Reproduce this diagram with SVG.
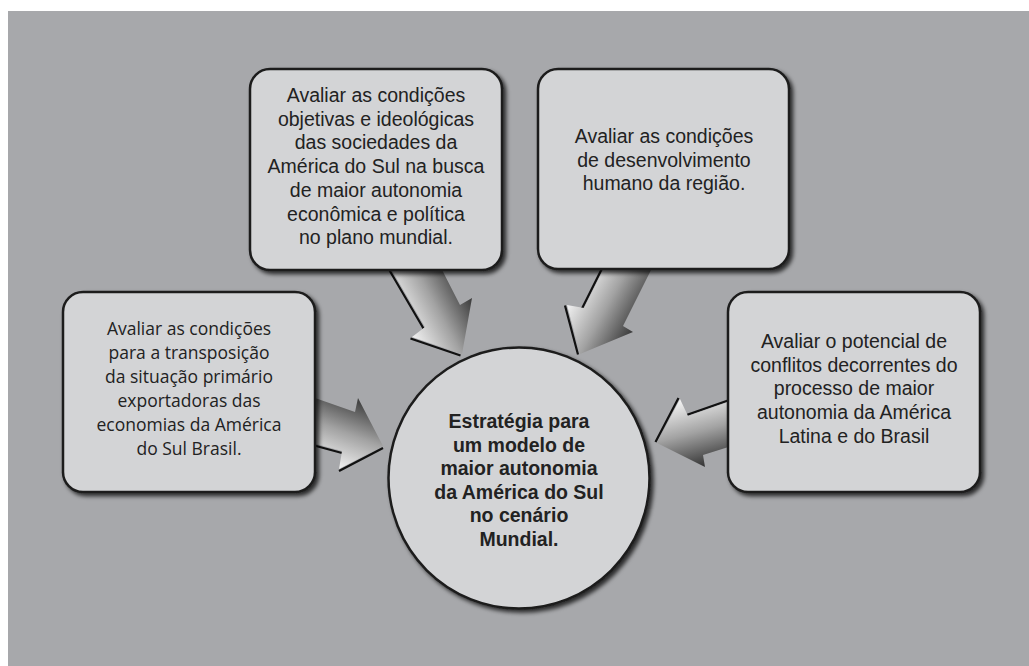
<svg xmlns="http://www.w3.org/2000/svg" width="1029" height="666" viewBox="0 0 1029 666">
<style>
.box{fill:#d3d4d6;stroke:#1c1c1c;stroke-width:2.5;filter:url(#sh)}
.t{font-family:"Liberation Sans",Arial,sans-serif;font-size:19.5px;fill:#222;text-anchor:middle}
.tc{font-family:"Open Sans","Noto Sans",sans-serif;font-size:17.5px;fill:#222;text-anchor:middle}
.tb{font-family:"Liberation Sans",Arial,sans-serif;font-size:19.5px;font-weight:bold;fill:#222;text-anchor:middle}
.edge{fill:none;stroke:#111;stroke-width:2.2}
</style>
<defs>
<filter id="sh" x="-10%" y="-10%" width="125%" height="125%">
<feDropShadow dx="3" dy="3" stdDeviation="2" flood-color="#000" flood-opacity="0.75"/>
</filter>
<linearGradient id="g1" gradientUnits="userSpaceOnUse" x1="412" y1="337" x2="474.7" y2="303.3">
<stop offset="0" stop-color="#f2f2f2"/><stop offset="0.5" stop-color="#a2a2a2"/><stop offset="1" stop-color="#3a3a3a"/>
</linearGradient>
<linearGradient id="g2" gradientUnits="userSpaceOnUse" x1="567" y1="305" x2="628.7" y2="339.6">
<stop offset="0" stop-color="#f2f2f2"/><stop offset="0.5" stop-color="#a2a2a2"/><stop offset="1" stop-color="#3a3a3a"/>
</linearGradient>
<linearGradient id="g3" gradientUnits="userSpaceOnUse" x1="358" y1="398" x2="332.2" y2="466.5">
<stop offset="0" stop-color="#3a3a3a"/><stop offset="0.5" stop-color="#a2a2a2"/><stop offset="1" stop-color="#f2f2f2"/>
</linearGradient>
<linearGradient id="g4" gradientUnits="userSpaceOnUse" x1="680" y1="399" x2="698.6" y2="468.7">
<stop offset="0" stop-color="#f6f6f6"/><stop offset="0.5" stop-color="#a2a2a2"/><stop offset="1" stop-color="#333"/>
</linearGradient>
</defs>
<rect x="0" y="0" width="1029" height="666" fill="#fff"/>
<rect x="8" y="11" width="1021" height="655" fill="#a7a8ab"/>
<g id="connectors">
<g id="arrow-a">
<path class="edge" transform="translate(-1.5,1.5)" d="M387,262 L425,327 M412,337 L462,354"/>
<polygon fill="url(#g1)" points="387,262 425,327 412,337 462,354 472,298 460,305 438,262"/>
</g>
<g id="arrow-b">
<path class="edge" transform="translate(-2,0.5)" d="M607,262 L584,308 M567,305 L580,354"/>
<polygon fill="url(#g2)" points="607,262 584,308 567,305 580,354 633,332 623,326 655,262"/>
</g>
<g id="arrow-c">
<path class="edge" transform="translate(0,2)" d="M305,441 L342,451 M339,469 L383,446"/>
<polygon fill="url(#g3)" points="305,394.5 355,412 358,398 383,446 339,469 342,451 305,441"/>
</g>
<g id="arrow-d">
<path class="edge" transform="translate(-1.5,-1)" d="M738,398.5 L688,416 M680,399 L657,443"/>
<polygon fill="url(#g4)" points="738,398.5 688,416 680,399 657,443 705,467 703,455 738,444"/>
</g>
</g>
<g id="node-a">
<rect class="box" x="250" y="69" width="252" height="201" rx="20"/>
<text class="t" x="376" y="102">Avaliar as condições</text>
<text class="t" x="376" y="125.7">objetivas e ideológicas</text>
<text class="t" x="376" y="149.4">das sociedades da</text>
<text class="t" x="376" y="173.1">América do Sul na busca</text>
<text class="t" x="376" y="196.8">de maior autonomia</text>
<text class="t" x="376" y="220.5">econômica e política</text>
<text class="t" x="376" y="244.2">no plano mundial.</text>
</g>
<g id="node-b">
<rect class="box" x="538" y="69" width="251" height="200" rx="20"/>
<text class="t" x="664" y="143">Avaliar as condições</text>
<text class="t" x="664" y="166.7">de desenvolvimento</text>
<text class="t" x="664" y="190.4">humano da região.</text>
</g>
<g id="node-c">
<rect class="box" x="63" y="292" width="252" height="200" rx="20"/>
<text class="tc" x="189" y="335">Avaliar as condições</text>
<text class="tc" x="189" y="359">para a transposição</text>
<text class="tc" x="189" y="383">da situação primário</text>
<text class="tc" x="189" y="407">exportadoras das</text>
<text class="tc" x="189" y="431">economias da América</text>
<text class="tc" x="189" y="455">do Sul Brasil.</text>
</g>
<g id="node-d">
<rect class="box" x="728" y="292" width="252" height="200" rx="20"/>
<text class="t" x="854" y="348">Avaliar o potencial de</text>
<text class="t" x="854" y="371.7">conflitos decorrentes do</text>
<text class="t" x="854" y="395.4">processo de maior</text>
<text class="t" x="854" y="419.1">autonomia da América</text>
<text class="t" x="854" y="442.8">Latina e do Brasil</text>
</g>
<g id="node-center">
<circle class="box" cx="519" cy="478" r="130.5"/>
<text class="tb" x="519" y="428">Estratégia para</text>
<text class="tb" x="519" y="451.5">um modelo de</text>
<text class="tb" x="519" y="475">maior autonomia</text>
<text class="tb" x="519" y="498.5">da América do Sul</text>
<text class="tb" x="519" y="522">no cenário</text>
<text class="tb" x="519" y="545.5">Mundial.</text>
</g>
</svg>
